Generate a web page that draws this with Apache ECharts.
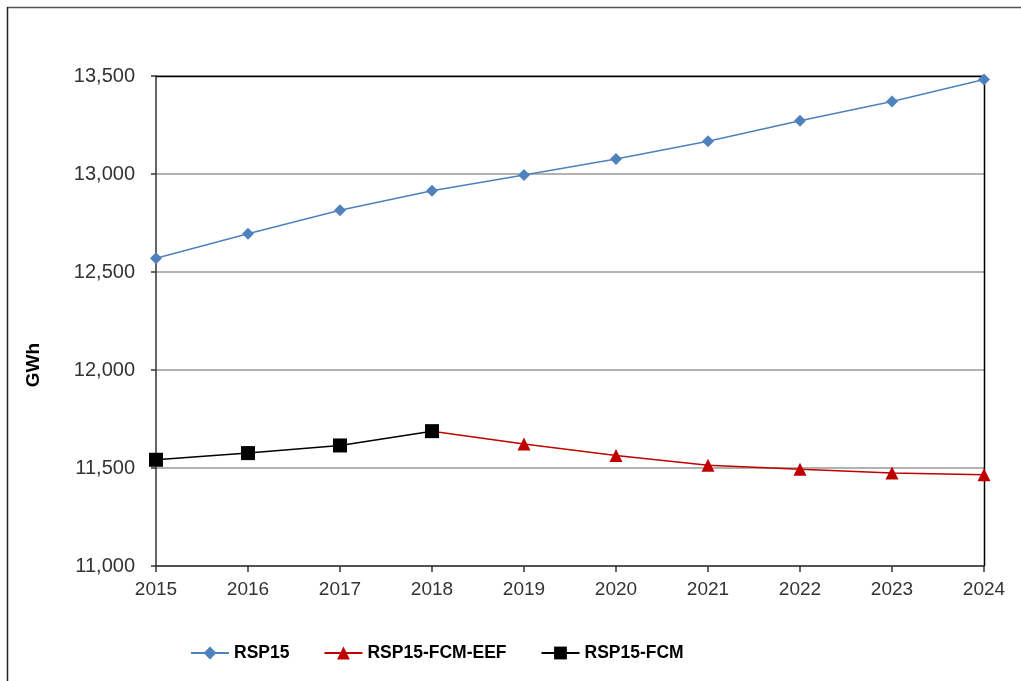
<!DOCTYPE html>
<html>
<head>
<meta charset="utf-8">
<script src="https://cdn.jsdelivr.net/npm/echarts@6/dist/echarts.min.js"></script>
<style>
  html, body { margin: 0; padding: 0; background: #fff; }
  #chart { width: 1021px; height: 681px; }
</style>
</head>
<body>
<div id="chart"></div>
<script>
// Annual energy forecast, GWh
const years = ['2015', '2016', '2017', '2018', '2019', '2020', '2021', '2022', '2023', '2024'];
const rsp15 = [12570, 12695, 12815, 12915, 12995, 13077, 13167, 13272, 13370, 13482];
const rsp15FcmEef = [null, null, null, 11688, 11622, 11564, 11514, 11493, 11475, 11465];
const rsp15Fcm = [11542, 11576, 11615, 11688, null, null, null, null, null, null];
const yTicks = { min: 11000, max: 13500, step: 500 };

const FONT = '"Liberation Sans", Arial, sans-serif';

const chart = echarts.init(document.getElementById('chart'), null, { renderer: 'canvas' });

chart.setOption({
  animation: false,
  backgroundColor: '#ffffff',
  grid: { left: 156, top: 76, right: 37, bottom: 115, containLabel: false },
  graphic: [
    // outer chart frame (top and left edges visible)
    { type: 'line', shape: { x1: 7, y1: 7.5, x2: 1021, y2: 7.5 }, style: { stroke: '#555', lineWidth: 1.5 } },
    { type: 'line', shape: { x1: 7.5, y1: 7, x2: 7.5, y2: 681 }, style: { stroke: '#222', lineWidth: 1.5 } },
    // plot area top and right borders
    { type: 'line', shape: { x1: 156, y1: 76.5, x2: 984.5, y2: 76.5 }, style: { stroke: '#000', lineWidth: 1.5 }, z: 1 },
    { type: 'line', shape: { x1: 984.5, y1: 76, x2: 984.5, y2: 566 }, style: { stroke: '#000', lineWidth: 1.5 }, z: 1 },
    {
      type: 'text', x: 34, y: 365, rotation: Math.PI / 2,
      style: { text: 'GWh', font: 'bold 19px ' + FONT, fill: '#000', align: 'center', verticalAlign: 'middle' }
    }
  ],
  legend: {
    left: 185,
    top: 639,
    itemWidth: 38,
    itemHeight: 16,
    itemGap: 34,
    textStyle: { fontFamily: FONT, fontWeight: 'bold', fontSize: 17.5, color: '#000' },
    data: ['RSP15', 'RSP15-FCM-EEF', 'RSP15-FCM']
  },
  xAxis: {
    type: 'category',
    data: years,
    boundaryGap: false,
    axisLine: { lineStyle: { color: '#333', width: 1.5 } },
    axisTick: { show: true, length: 6, lineStyle: { color: '#333', width: 1.5 } },
    axisLabel: { fontFamily: FONT, fontSize: 19, color: '#333', margin: 14 },
    splitLine: { show: false }
  },
  yAxis: {
    type: 'value',
    min: yTicks.min,
    max: yTicks.max,
    interval: yTicks.step,
    axisLine: { show: true, lineStyle: { color: '#333', width: 1.5 } },
    axisTick: { show: true, length: 5, lineStyle: { color: '#333', width: 1.5 } },
    axisLabel: {
      fontFamily: FONT, fontSize: 20, color: '#333', margin: 21,
      formatter: v => v.toLocaleString('en-US')
    },
    splitLine: { show: true, lineStyle: { color: '#999', width: 1.5 } }
  },
  series: [
    {
      name: 'RSP15', type: 'line', data: rsp15,
      symbol: 'diamond', symbolSize: 12,
      itemStyle: { color: '#4f81bd' },
      lineStyle: { color: '#4f81bd', width: 1.5 },
      z: 3
    },
    {
      name: 'RSP15-FCM-EEF', type: 'line', data: rsp15FcmEef,
      symbol: 'triangle', symbolSize: 13,
      itemStyle: { color: '#c00000' },
      lineStyle: { color: '#c00000', width: 1.5 },
      z: 4
    },
    {
      name: 'RSP15-FCM', type: 'line', data: rsp15Fcm,
      symbol: 'rect', symbolSize: 14,
      itemStyle: { color: '#000000' },
      lineStyle: { color: '#000000', width: 1.5 },
      z: 5
    }
  ]
});
</script>
</body>
</html>
